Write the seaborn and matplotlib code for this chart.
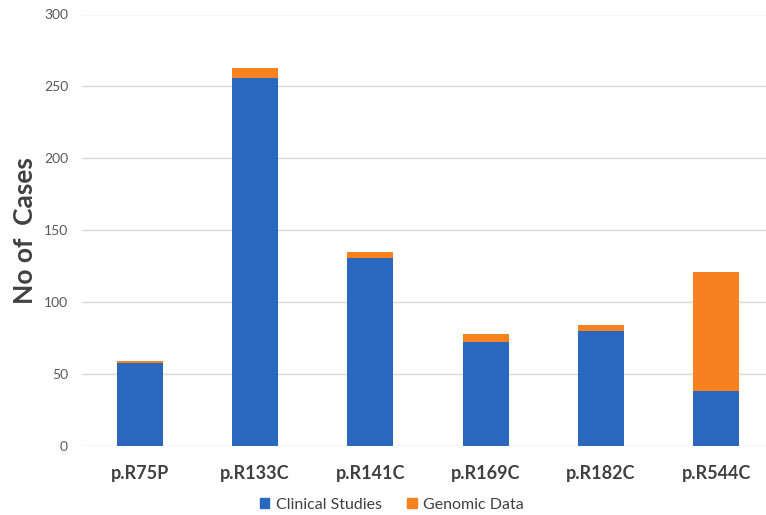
import matplotlib
matplotlib.use("Agg")
import matplotlib.pyplot as plt
import seaborn as sns
import pandas as pd
from matplotlib.patches import Patch

# Variant counts by source
variants = ["p.R75P", "p.R133C", "p.R141C", "p.R169C", "p.R182C", "p.R544C"]
clinical = [58, 256, 131, 72, 80, 38]
genomic = [1, 7, 4, 6, 4, 83]

BLUE = "#2A68C0"
ORANGE = "#F5821F"
TEXT = "#404040"

sns.set_theme(style="white")
plt.rcParams["font.family"] = ["Lato", "DejaVu Sans"]

df = pd.DataFrame({"variant": variants, "clinical": clinical, "genomic": genomic})
df["total"] = df["clinical"] + df["genomic"]

fig = plt.figure(figsize=(7.66, 5.15), dpi=100)
ax = fig.add_axes([82 / 766, 1 - 446 / 515, (774 - 82) / 766, (446 - 14.5) / 515])

# Stacked bars: total in orange underneath, clinical in blue on top
sns.barplot(data=df, x="variant", y="total", color=ORANGE, width=0.4,
            saturation=1, ax=ax, zorder=3, linewidth=0)
sns.barplot(data=df, x="variant", y="clinical", color=BLUE, width=0.4,
            saturation=1, ax=ax, zorder=4, linewidth=0)

ax.set_xlim(-0.5, 5.5)
ax.set_ylim(0, 300)
ax.set_yticks(range(0, 301, 50))
ax.yaxis.grid(True, color="#D9D9D9", linewidth=1, zorder=0)
ax.xaxis.grid(False)
for s in ax.spines.values():
    s.set_visible(False)

ax.tick_params(axis="y", length=0, pad=10, labelsize=10, labelcolor="#595959")
ax.tick_params(axis="x", length=0, pad=14, labelsize=13, labelcolor=TEXT)
for lbl in ax.get_xticklabels():
    lbl.set_fontweight("bold")

ax.set_xlabel("")
ax.set_ylabel("No of  Cases", fontsize=19, fontweight="bold", color=TEXT,
              va="center", ha="center")
ax.yaxis.set_label_coords((25 - 82) / 692, 0.5)

handles = [Patch(color=BLUE, label="Clinical Studies"),
           Patch(color=ORANGE, label="Genomic Data")]
fig.legend(handles=handles, loc="center", bbox_to_anchor=(392 / 766, 1 - 505 / 515),
           ncol=2, frameon=False, fontsize=11.5, handlelength=0.6, handleheight=0.6,
           handletextpad=0.4, columnspacing=1.6, labelcolor=TEXT)

fig.savefig("out.png", dpi=100)
